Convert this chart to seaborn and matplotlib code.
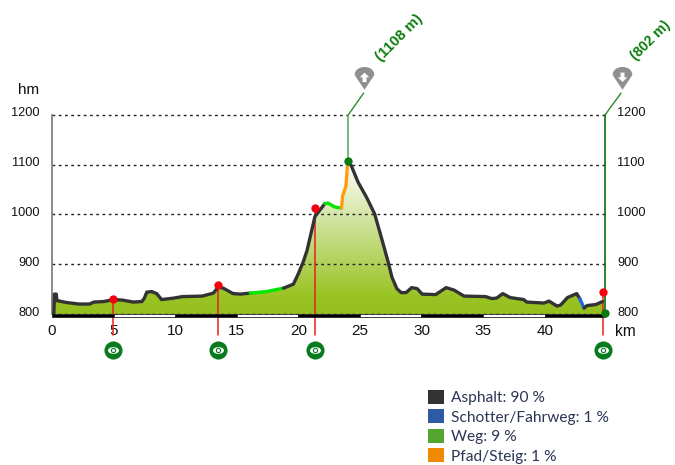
import numpy as np
import pandas as pd
import seaborn as sns
import matplotlib
matplotlib.use("Agg")
import matplotlib.pyplot as plt
from matplotlib.colors import LinearSegmentedColormap
from matplotlib.patches import Patch
from matplotlib.path import Path
from matplotlib.transforms import Affine2D, ScaledTranslation

sns.set_style("white")
plt.rcParams["font.family"] = ["Liberation Sans", "DejaVu Sans"]

# profile, one list per stretch of surface
asphalt_1_km = [0.15, 0.2, 0.35, 0.4, 1.2, 2.2, 3.05, 3.4, 4.2, 5.0, 5.7, 6.6, 7.3, 7.5, 7.7, 8.1, 8.5, 8.9, 9.9,
                10.6, 12.2, 13.1, 13.5, 13.9, 14.7, 15.3, 16.1]
asphalt_1_m = [800, 840, 840, 827, 823, 820, 820, 824, 825, 829, 828, 824, 825, 832, 844, 845, 841, 829, 832,
               835, 836, 842, 854, 852, 841, 840, 842]
weg_1_km = [16.1, 17.4, 18.8]
weg_1_m = [842, 845, 852]
asphalt_2_km = [18.8, 19.6, 20.0, 20.4, 20.7, 21.35, 22.16]
asphalt_2_m = [852, 860, 881, 905, 927, 996, 1022]
weg_2_km = [22.16, 22.4, 22.97, 23.5]
weg_2_m = [1022, 1023, 1015, 1013]
pfad_km = [23.5, 23.6, 23.87, 24.0]
pfad_m = [1013, 1038, 1058, 1102]
asphalt_3_km = [24.0, 24.05, 24.3, 24.85, 25.55, 26.2, 26.75, 27.3, 27.6, 28.0, 28.35, 28.75, 29.2, 29.65, 30.05,
                31.15, 32.0, 32.65, 33.45, 35.2, 35.7, 36.1, 36.6, 37.2, 38.3, 38.55, 39.95, 40.35, 41.0, 41.3,
                41.85, 42.6, 42.85]
asphalt_3_m = [1102, 1108, 1098, 1065, 1034, 1001, 953, 904, 874, 851, 843, 843, 853, 851, 840,
               839, 853, 848, 836, 835, 831, 832, 841, 833, 829, 824, 822, 826, 816, 818,
               833, 841, 831]
schotter_km = [42.85, 43.2]
schotter_m = [831, 812]
asphalt_4_km = [43.2, 43.45, 44.15, 44.7]
asphalt_4_m = [812, 817, 819, 825]

# photo points
photo_km = [4.95, 13.47, 21.35, 44.7]
photo_m = [830, 858, 1013, 844]

peak_km = 24.05
peak_m = 1108
end_km = 44.9
end_m = 803

legend_labels = ["Asphalt: 90 %", "Schotter/Fahrweg: 1 %", "Weg: 9 %", "Pfad/Steig: 1 %"]
legend_colors = ["#333333", "#2e5aa8", "#55a630", "#f08a00"]

yticks = [800, 900, 1000, 1100, 1200]
xticks = [0, 5, 10, 15, 20, 25, 30, 35, 40]
scale_starts = [0, 5, 10, 15, 20, 25, 30, 35, 40]
scale_widths = [5, 5, 5, 5, 5, 5, 5, 5, 4.9]

stretches = [
    (asphalt_1_km, asphalt_1_m, "#333333"),
    (weg_1_km, weg_1_m, "#00e600"),
    (asphalt_2_km, asphalt_2_m, "#333333"),
    (weg_2_km, weg_2_m, "#00e600"),
    (pfad_km, pfad_m, "#ff9c10"),
    (asphalt_3_km, asphalt_3_m, "#333333"),
    (schotter_km, schotter_m, "#1a66e0"),
    (asphalt_4_km, asphalt_4_m, "#333333"),
]

W, H = 675, 465
fig = plt.figure(figsize=(W / 100, H / 100), dpi=100)
ax = fig.add_axes([52 / W, 1 - 314 / H, 553 / W, 199 / H])
ax.set_xlim(0, end_km)
ax.set_ylim(800, 1200)

# filled area with gradient
all_km = sum([s[0] for s in stretches], []) + [end_km]
all_m = sum([s[1] for s in stretches], []) + [end_m]
fill = ax.fill_between(all_km, all_m, 800, color="none", zorder=1)
cmap = LinearSegmentedColormap.from_list("hill", [(0, "#94bf1e"), (0.12, "#9ac425"), (0.5, "#c5dc85"), (1, "#ffffff")])
img = ax.imshow(np.linspace(1, 0, 256).reshape(-1, 1), extent=[0, end_km, 800, peak_m], aspect="auto", cmap=cmap,
                zorder=1)
img.set_clip_path(fill.get_paths()[0], transform=ax.transData)
ax.set_xlim(0, end_km)
ax.set_ylim(800, 1200)

# grid
for y in yticks:
    ax.axhline(y, color="#222222", lw=1, ls=(0, (2, 2.5)), zorder=2, clip_on=False)

# red photo stems
for km, m in zip(photo_km, photo_m):
    ax.plot([km, km], [m, 758], color="#e8201a", lw=1.1, zorder=3, clip_on=False)

# green lines to the summit and end labels
ax.plot([peak_km, peak_km], [peak_m, 1200], color="#5fae5f", lw=1.2, zorder=3)
ax.plot([peak_km, 25.3], [1200, 1244], color="#2a8a2a", lw=1, clip_on=False)
ax.plot([end_km, 46.2], [1200, 1244], color="#2a8a2a", lw=1, clip_on=False)
ax.plot([end_km, end_km], [800, 1200], color="#0a6e0a", lw=1.2, zorder=3, clip_on=False)

# profile line
for seg_km, seg_m, col in stretches:
    df = pd.DataFrame({"km": seg_km, "m": seg_m})
    sns.lineplot(data=df, x="km", y="m", color=col, lw=2.4, ax=ax, sort=False, estimator=None, zorder=4,
                 solid_capstyle="round", clip_on=False)

# scale strip
colors = ["black", "white"] * 4 + ["black"]
ax.bar(scale_starts, [-6] * 9, width=scale_widths, bottom=800, align="edge", color=colors, edgecolor="#222222",
       lw=0.6, clip_on=False, zorder=5)

# dots
ax.scatter(photo_km, photo_m, s=36, color="#f5000f", zorder=6, clip_on=False, lw=0)
ax.scatter([peak_km, end_km], [peak_m, end_m], s=36, color="#0a7a12", zorder=6, clip_on=False, lw=0)

# eye icons
eye = Path.unit_circle().transformed(Affine2D().scale(1, 0.62))
eye_y = [728] * len(photo_km)
ax.scatter(photo_km, eye_y, s=170, color="#0a7a1e", clip_on=False, lw=0, zorder=6)
ax.scatter(photo_km, eye_y, s=62, marker=eye, color="white", clip_on=False, lw=0, zorder=7)
ax.scatter(photo_km, eye_y, s=15, color="#0a7a1e", clip_on=False, lw=0, zorder=8)
ax.scatter(photo_km, eye_y, s=5, color="white", clip_on=False, lw=0, zorder=9)

# pins
pin_path = Path([(-1, 0.35), (-1, 1.45), (1, 1.45), (1, 0.35), (0, -1.15), (-1, 0.35)],
                [Path.MOVETO, Path.CURVE4, Path.CURVE4, Path.CURVE4, Path.LINETO, Path.CLOSEPOLY])
arrow_up = Path([(-0.6, 0.4), (0, 1), (0.6, 0.4), (0.25, 0.4), (0.25, -0.2), (-0.25, -0.2), (-0.25, 0.4),
                 (-0.6, 0.4)], closed=True)
arrow_down = arrow_up.transformed(Affine2D().translate(0, -0.4).scale(1, -1).translate(0, 0.4))
for x, arr in [(25.3, arrow_up), (46.27, arrow_down)]:
    ax.scatter([x], [1274], s=420, marker=pin_path, color="#8f8f8f", lw=0, clip_on=False, zorder=6)
    ax.scatter([x], [1270], s=130, marker=arr, color="white", lw=0, clip_on=False, zorder=7)

ax.text(28.2, 1355, "(1108 m)", rotation=45, color="#0a7d0a", fontweight="bold", fontsize=10.8, ha="center",
        va="center", rotation_mode="anchor")
ax.text(48.6, 1350, "(802 m)", rotation=45, color="#0a7d0a", fontweight="bold", fontsize=10.2, ha="center",
        va="center", rotation_mode="anchor")

# axes
ax.set_xlabel("")
ax.set_ylabel("")
ax.set_xticks(xticks)
ax.set_xticklabels([str(x) for x in xticks], fontsize=11, color="#111111")
ax.tick_params(axis="x", length=0, pad=7)
ax.set_yticks(yticks)
ax.set_yticklabels([str(y) for y in yticks], fontsize=9.2, color="#111111")
ax.tick_params(axis="y", length=0, pad=9)
lift = ScaledTranslation(0, 3 / 100, fig.dpi_scale_trans)
for lab in ax.get_yticklabels():
    lab.set_transform(lab.get_transform() + lift)
ax2 = ax.twinx()
ax2.set_ylim(800, 1200)
ax2.set_yticks(yticks)
ax2.set_yticklabels([str(y) for y in yticks], fontsize=9.2, color="#111111")
ax2.tick_params(axis="y", length=0, pad=9)
for lab in ax2.get_yticklabels():
    lab.set_transform(lab.get_transform() + lift)
ax2.grid(False)
ax.grid(False)
for a in [ax, ax2]:
    for side in ["top", "right", "bottom"]:
        a.spines[side].set_visible(False)
ax2.spines["left"].set_visible(False)
ax.spines["left"].set_color("#777777")
ax.spines["left"].set_linewidth(1.2)
ax.set_zorder(ax2.get_zorder() + 1)
ax.patch.set_visible(False)

fig.text(18 / W, 1 - 90 / H, "hm", fontsize=11, color="#111111", va="center")
fig.text(615 / W, 1 - 331 / H, "km", fontsize=11.2, color="#111111", va="center")

handles = [Patch(facecolor=c, edgecolor="none", label=l) for c, l in zip(legend_colors, legend_labels)]
fig.legend(handles=handles, loc="upper left", bbox_to_anchor=(423 / W, 1 - 385 / H), frameon=False,
           prop={"family": "Lato", "size": 11.2}, labelcolor="#2c3555", handlelength=1.03, handleheight=1.03,
           handletextpad=0.45, labelspacing=0.26, borderpad=0.3, borderaxespad=0)

fig.savefig("out.png", dpi=100)
